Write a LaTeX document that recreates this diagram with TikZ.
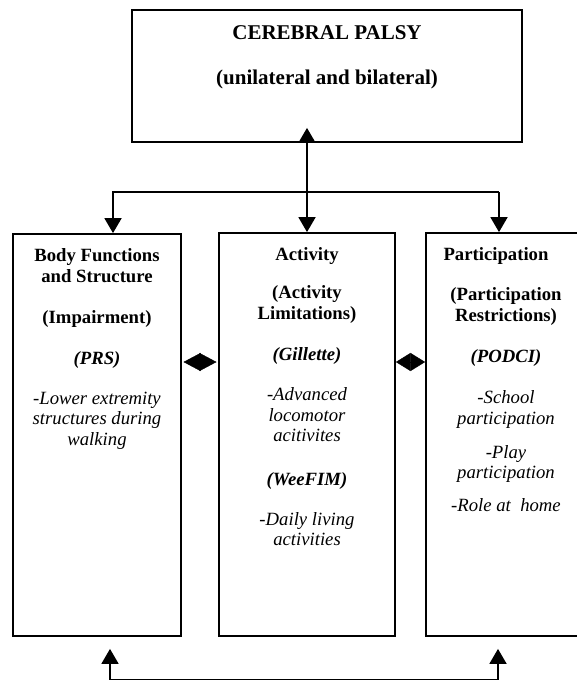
\documentclass[tikz,border=0pt]{standalone}
\usepackage{fontspec}
\setmainfont{Liberation Serif}
\usetikzlibrary{arrows.meta,positioning,calc}
\newcommand{\plainit}[1]{\textmd{\textit{#1}}}

\begin{document}
\begin{tikzpicture}[x=1pt, y=-1pt,
    box/.style={draw, line width=1.8pt, inner sep=0pt},
    txt/.style={align=center, inner sep=0pt,
                font=\fontsize{18.7}{20.5}\selectfont\bfseries},
    link/.style={line width=1.8pt},
    arr/.style={-{Triangle[length=15pt,width=17pt]}, line width=1.8pt},
    dbl/.style={{Triangle[length=15pt,width=17pt]}-{Triangle[length=15pt,width=17pt]},
                line width=1.8pt},
    dia/.style={{Triangle[length=#1,width=18pt]}-{Triangle[length=#1,width=18pt]},
                line width=0.4pt}
  ]
    \useasboundingbox (0,0) rectangle (577,680);

    % --- Top: diagnosis ---
    \node[box, minimum width=390pt, minimum height=132pt] (palsy) at (327,76) {};
    \node[txt, font=\fontsize{21}{24}\selectfont\bfseries, below=16pt of palsy.north]
      (palsytxt) {CEREBRAL PALSY\\[21pt](unilateral and bilateral)};

    % --- Three ICF components ---
    \node[box, minimum width=168pt, minimum height=402pt] (body) at (97,435) {};
    \node[txt, below=15.5pt of body.north] (bodytxt)
      {Body Functions\\and Structure\\[20.5pt](Impairment)\\[20.5pt]\textit{(PRS)}\\[19.5pt]%
       \plainit{-Lower extremity}\\\plainit{structures during}\\\plainit{walking}};

    \node[box, minimum width=176pt, minimum height=403pt] (act) at (307,434.5) {};
    \node[txt, below=15.5pt of act.north] (acttxt)
      {Activity\\[17.5pt](Activity\\Limitations)\\[21pt]\textit{(Gillette)}\\[19.5pt]%
       \plainit{-Advanced}\\\plainit{locomotor}\\\plainit{acitivites}\\[23pt]%
       \textit{(WeeFIM)}\\[19.5pt]\plainit{-Daily living}\\\plainit{activities}};

    \node[box, minimum width=160pt, minimum height=403pt] (part) at (506,434.5) {};
    \node[txt, below=15.5pt of part.north] (parttxt)
      {Participation\hspace*{20pt}\\[19.5pt](Participation\\Restrictions)\\[20.5pt]%
       \textit{(PODCI)}\\[21pt]\plainit{-School}\\\plainit{participation}\\[13.5pt]%
       \plainit{-Play}\\\plainit{participation}\\[12.5pt]\plainit{-Role at\ \ home}};

    % --- Connectors ---
    \coordinate (tl) at (113,192);
    \coordinate (tr) at (499,192);
    \draw[arr] (tr) -- (tl) -- (tl |- body.north);
    \draw[arr] (tr) -- (tr |- part.north);
    \draw[dbl] (act.north) -- ([yshift=15pt]act.north |- palsy.south);

    \coordinate (dy) at (0,362);
    \draw[dia=17pt, shorten <=1.6pt, shorten >=1.6pt] (body.east |- dy) -- (act.west |- dy);
    \draw[dia=14.6pt] (act.east |- dy) -- (part.west |- dy);

    \coordinate (bl) at (110,680.2);
    \coordinate (br) at (498,680.2);
    \draw[link] (bl) -- (br);
    \draw[arr] (bl) -- ([yshift=-12pt]bl |- body.south);
    \draw[arr] (br) -- ([yshift=-12pt]br |- part.south);
  \end{tikzpicture}
\end{document}
